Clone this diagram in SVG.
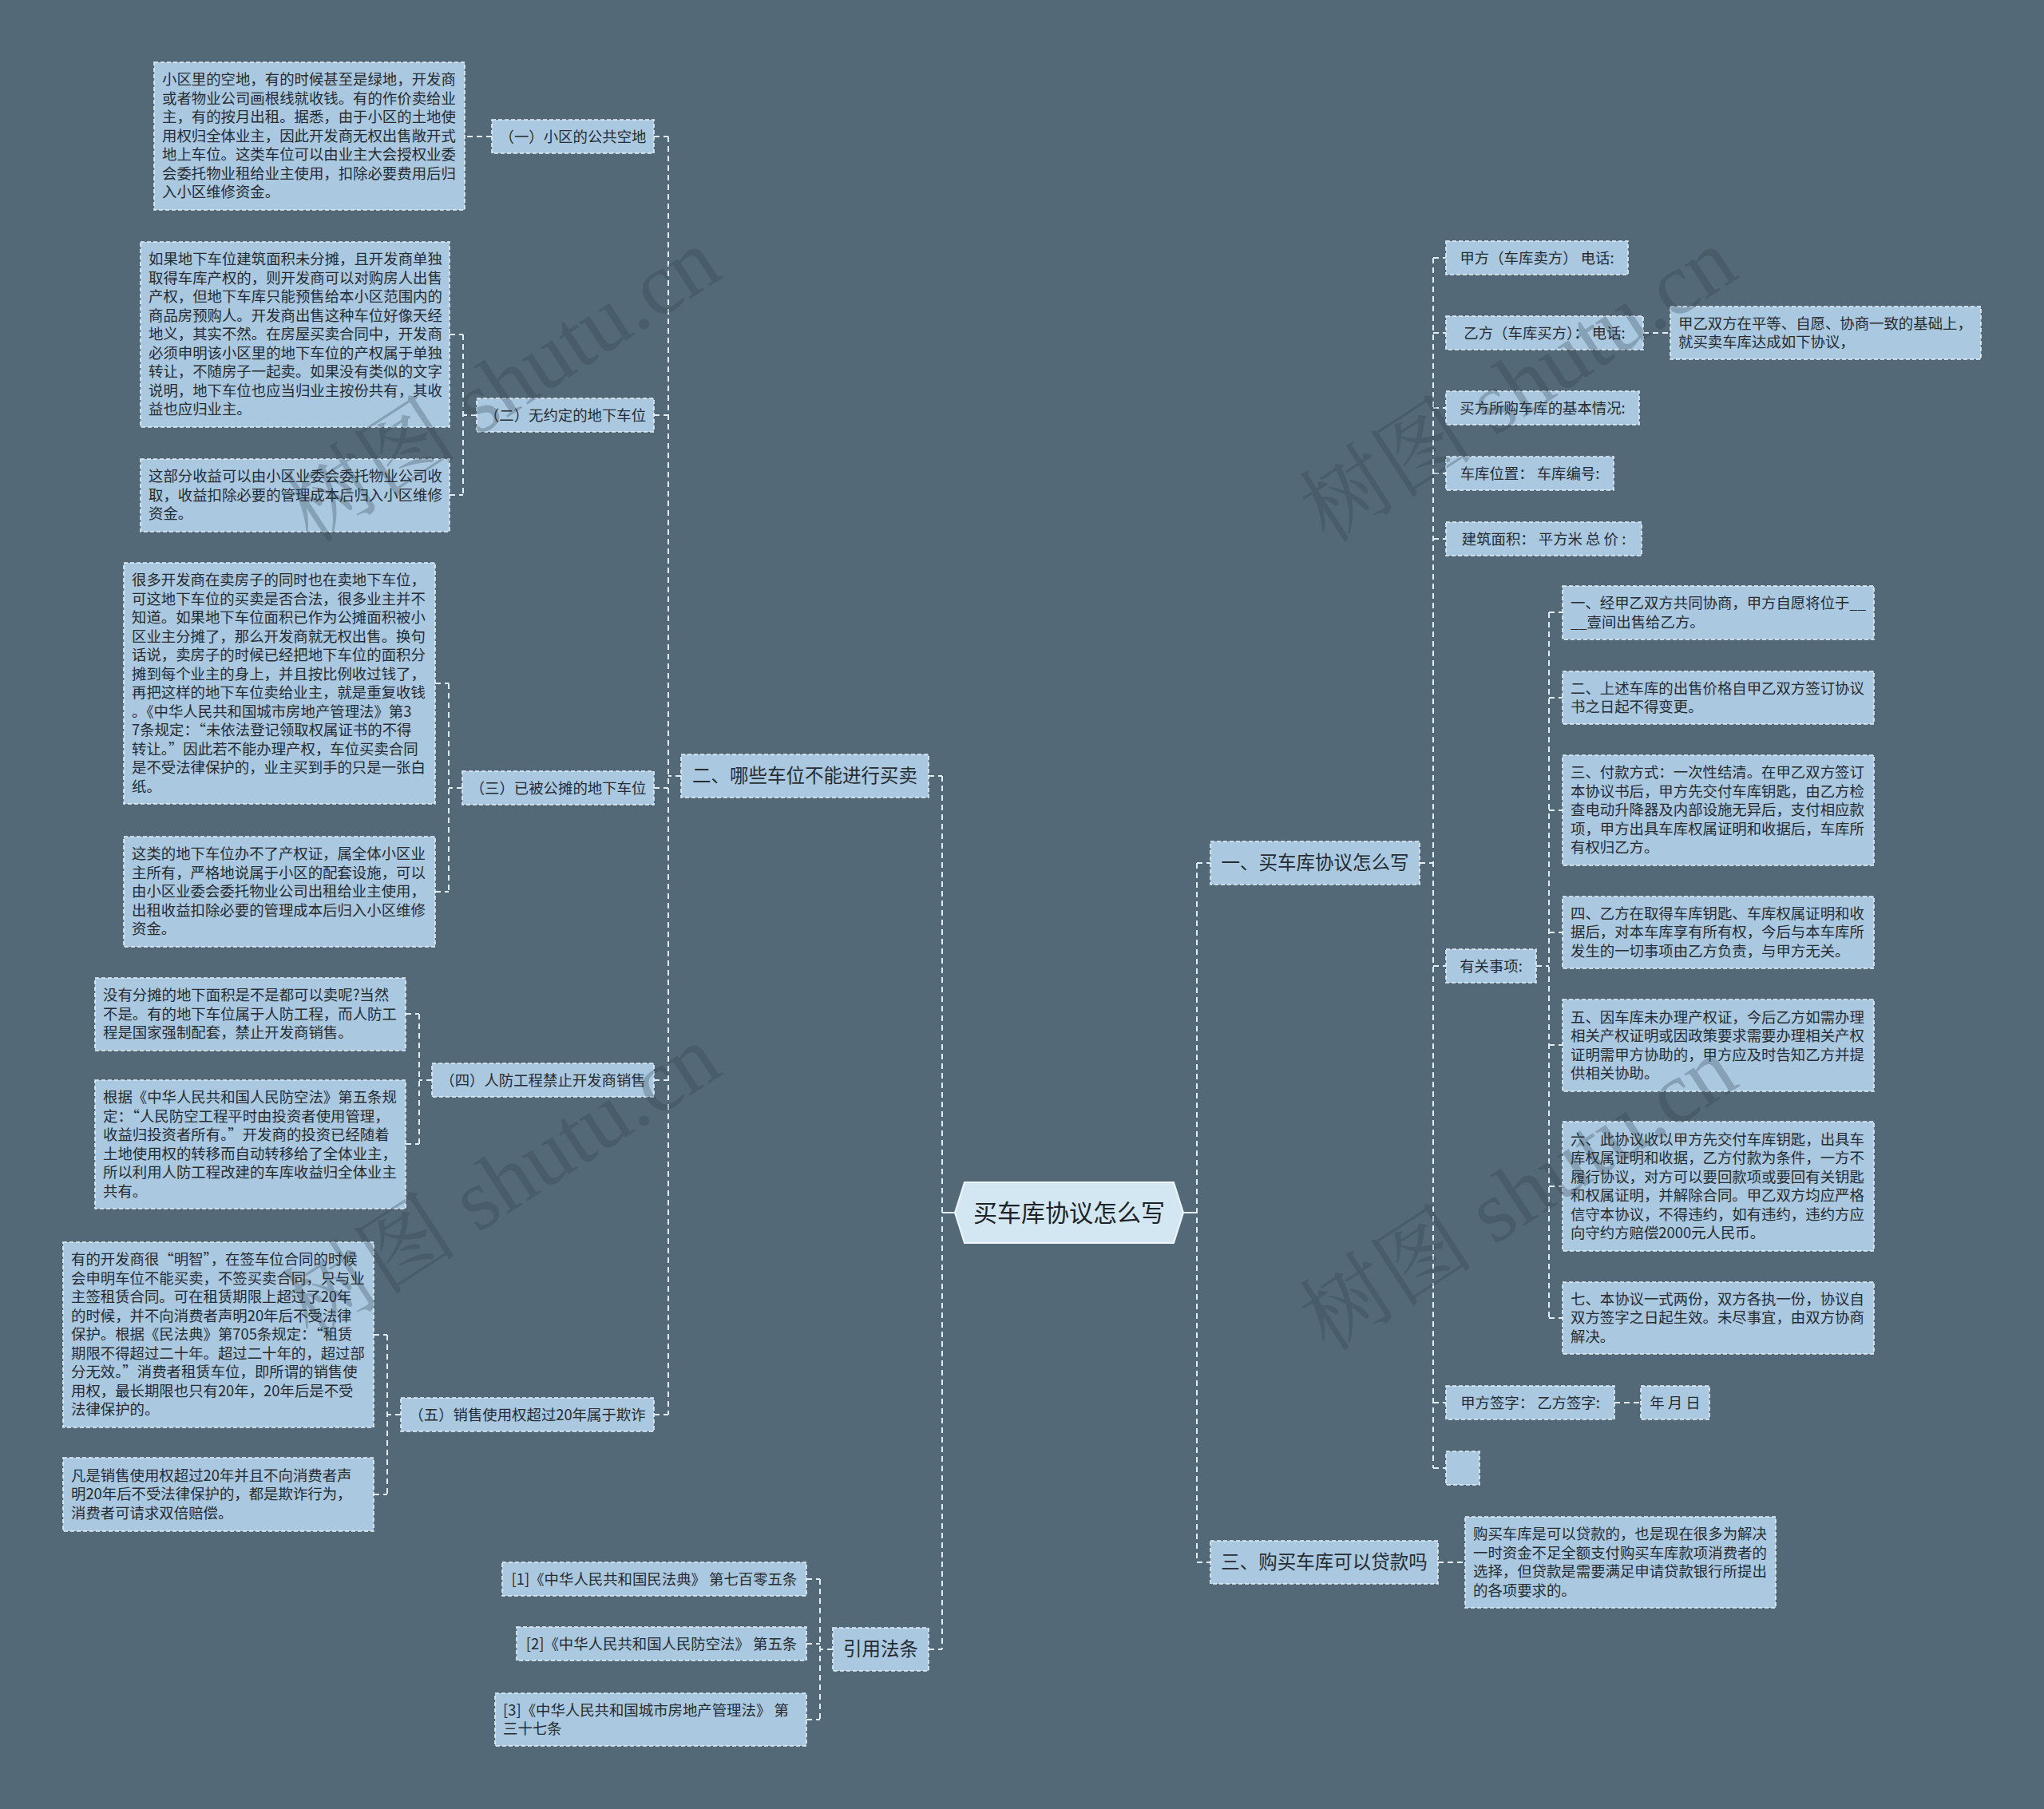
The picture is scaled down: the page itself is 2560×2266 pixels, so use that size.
<svg xmlns="http://www.w3.org/2000/svg" width="2560" height="2266" viewBox="0 0 2560 2266">
<style>
.bg{fill:#536978}
.n{fill:#aac8e0;stroke:#e6f0f7;stroke-width:1.6;stroke-dasharray:5 3}
.t{font-family:"Noto Sans CJK SC","Noto Sans",sans-serif;font-size:18.4px;fill:#262c31}
.c{text-anchor:middle}
.l1{font-size:23.5px}
.root{fill:#d3e7f3;stroke:#eef6fb;stroke-width:2}
.rt{font-family:"Noto Sans CJK SC","Noto Sans",sans-serif;font-size:30px;fill:#1e2328;text-anchor:middle}
.cn path{fill:none;stroke:#e2edf5;stroke-width:2;stroke-dasharray:7 5}
.cn .s{stroke-dasharray:none}
.wm{font-family:"Liberation Serif","Noto Serif CJK SC","Noto Sans CJK SC",serif;font-size:110px;fill:#2c3c48;opacity:0.28}
</style>
<rect class="bg" x="0" y="0" width="2560" height="2266"/>

<g id="connectors" class="cn">
<path class="s" d="M1196 1519H1180"/>
<path d="M1180 972V2066M1163 972H1180M1163 2066H1180"/>
<path d="M853 972H837M837 171V1772M819 171H837M819 520H837M819 987H837M819 1353H837M819 1772H837"/>
<path d="M616 171H582"/>
<path d="M597 520H580M580 419V620M563 419H580M563 620H580"/>
<path d="M579 987H562M562 856V1117M545 856H562M545 1117H562"/>
<path d="M541 1353H525M525 1270V1433M508 1270H525M508 1433H525"/>
<path d="M502 1772H485M485 1672V1872M468 1672H485M468 1872H485"/>
<path d="M1043 2066H1027M1027 1978V2154M1010 1978H1027M1010 2059H1027M1010 2154H1027"/>
<path class="s" d="M1482 1519H1499"/>
<path d="M1499 1081V1957M1499 1081H1516M1499 1957H1516"/>
<path d="M1778 1081H1795M1795 323V1839M1795 323H1811M1795 417H1811M1795 511H1811M1795 593H1811M1795 675H1811M1795 1210H1811M1795 1757H1811M1795 1839H1811"/>
<path d="M2058 417H2092"/>
<path d="M1924 1210H1940M1940 767V1651M1940 767H1957M1940 874H1957M1940 1015H1957M1940 1168H1957M1940 1309H1957M1940 1486H1957M1940 1651H1957"/>
<path d="M2022 1757H2055"/>
<path d="M1801 1957H1835"/>
</g>

<g id="root">
<polygon class="root" points="1196,1519 1208,1481 1470,1481 1482,1519 1470,1557 1208,1557"/>
<text class="rt" x="1339" y="1530">买车库协议怎么写</text>
</g>

<g id="b2">
<rect class="n" x="853" y="945" width="310" height="54"/>
<text class="t l1 c" x="1008" y="980">二、哪些车位不能进行买卖</text>
</g>
<g id="b2-1">
<rect class="n" x="616" y="150" width="203" height="42"/>
<text class="t c" x="717.5" y="177.5">（一）小区的公共空地</text>
</g>
<g id="b2-1-1">
<rect class="n" x="193" y="78" width="389" height="185"/>
<text class="t"><tspan x="203" y="106.3">小区里的空地，有的时候甚至是绿地，开发商</tspan><tspan x="203" y="129.8">或者物业公司画根线就收钱。有的作价卖给业</tspan><tspan x="203" y="153.3">主，有的按月出租。据悉，由于小区的土地使</tspan><tspan x="203" y="176.8">用权归全体业主，因此开发商无权出售敞开式</tspan><tspan x="203" y="200.3">地上车位。这类车位可以由业主大会授权业委</tspan><tspan x="203" y="223.8">会委托物业租给业主使用，扣除必要费用后归</tspan><tspan x="203" y="247.3">入小区维修资金。</tspan></text>
</g>
<g id="b2-2">
<rect class="n" x="597" y="499" width="222" height="42"/>
<text class="t c" x="708" y="526.5">（二）无约定的地下车位</text>
</g>
<g id="b2-2-1">
<rect class="n" x="176" y="303" width="387" height="232"/>
<text class="t"><tspan x="186" y="331.3">如果地下车位建筑面积未分摊，且开发商单独</tspan><tspan x="186" y="354.8">取得车库产权的，则开发商可以对购房人出售</tspan><tspan x="186" y="378.3">产权，但地下车库只能预售给本小区范围内的</tspan><tspan x="186" y="401.8">商品房预购人。开发商出售这种车位好像天经</tspan><tspan x="186" y="425.3">地义，其实不然。在房屋买卖合同中，开发商</tspan><tspan x="186" y="448.8">必须申明该小区里的地下车位的产权属于单独</tspan><tspan x="186" y="472.3">转让，不随房子一起卖。如果没有类似的文字</tspan><tspan x="186" y="495.8">说明，地下车位也应当归业主按份共有，其收</tspan><tspan x="186" y="519.3">益也应归业主。</tspan></text>
</g>
<g id="b2-2-2">
<rect class="n" x="176" y="575" width="387" height="91"/>
<text class="t"><tspan x="186" y="603.3">这部分收益可以由小区业委会委托物业公司收</tspan><tspan x="186" y="626.8">取，收益扣除必要的管理成本后归入小区维修</tspan><tspan x="186" y="650.3">资金。</tspan></text>
</g>
<g id="b2-3">
<rect class="n" x="579" y="966" width="240" height="42"/>
<text class="t c" x="699" y="993.5">（三）已被公摊的地下车位</text>
</g>
<g id="b2-3-1">
<rect class="n" x="155" y="705" width="390" height="302"/>
<text class="t"><tspan x="165" y="733">很多开发商在卖房子的同时也在卖地下车位，</tspan><tspan x="165" y="756.5">可这地下车位的买卖是否合法，很多业主并不</tspan><tspan x="165" y="780">知道。如果地下车位面积已作为公摊面积被小</tspan><tspan x="165" y="803.5">区业主分摊了，那么开发商就无权出售。换句</tspan><tspan x="165" y="827">话说，卖房子的时候已经把地下车位的面积分</tspan><tspan x="165" y="850.5">摊到每个业主的身上，并且按比例收过钱了，</tspan><tspan x="165" y="874">再把这样的地下车位卖给业主，就是重复收钱</tspan><tspan x="165" y="897.5">。《中华人民共和国城市房地产管理法》第3</tspan><tspan x="165" y="921">7条规定：“未依法登记领取权属证书的不得</tspan><tspan x="165" y="944.5">转让。”因此若不能办理产权，车位买卖合同</tspan><tspan x="165" y="968">是不受法律保护的，业主买到手的只是一张白</tspan><tspan x="165" y="991.5">纸。</tspan></text>
</g>
<g id="b2-3-2">
<rect class="n" x="155" y="1048" width="390" height="138"/>
<text class="t"><tspan x="165" y="1076.3">这类的地下车位办不了产权证，属全体小区业</tspan><tspan x="165" y="1099.8">主所有，严格地说属于小区的配套设施，可以</tspan><tspan x="165" y="1123.3">由小区业委会委托物业公司出租给业主使用，</tspan><tspan x="165" y="1146.8">出租收益扣除必要的管理成本后归入小区维修</tspan><tspan x="165" y="1170.3">资金。</tspan></text>
</g>
<g id="b2-4">
<rect class="n" x="541" y="1332" width="278" height="42"/>
<text class="t c" x="680" y="1359.5">（四）人防工程禁止开发商销售</text>
</g>
<g id="b2-4-1">
<rect class="n" x="119" y="1225" width="389" height="91"/>
<text class="t"><tspan x="129" y="1253.3">没有分摊的地下面积是不是都可以卖呢?当然</tspan><tspan x="129" y="1276.8">不是。有的地下车位属于人防工程，而人防工</tspan><tspan x="129" y="1300.3">程是国家强制配套，禁止开发商销售。</tspan></text>
</g>
<g id="b2-4-2">
<rect class="n" x="119" y="1353" width="389" height="161"/>
<text class="t"><tspan x="129" y="1381">根据《中华人民共和国人民防空法》第五条规</tspan><tspan x="129" y="1404.5">定：“人民防空工程平时由投资者使用管理，</tspan><tspan x="129" y="1428">收益归投资者所有。”开发商的投资已经随着</tspan><tspan x="129" y="1451.5">土地使用权的转移而自动转移给了全体业主，</tspan><tspan x="129" y="1475">所以利用人防工程改建的车库收益归全体业主</tspan><tspan x="129" y="1498.5">共有。</tspan></text>
</g>
<g id="b2-5">
<rect class="n" x="502" y="1751" width="317" height="42"/>
<text class="t c" x="660.5" y="1778.5">（五）销售使用权超过20年属于欺诈</text>
</g>
<g id="b2-5-1">
<rect class="n" x="79" y="1556" width="389" height="232"/>
<text class="t"><tspan x="89" y="1584.3">有的开发商很“明智”，在签车位合同的时候</tspan><tspan x="89" y="1607.8">会申明车位不能买卖，不签买卖合同，只与业</tspan><tspan x="89" y="1631.3">主签租赁合同。可在租赁期限上超过了20年</tspan><tspan x="89" y="1654.8">的时候，并不向消费者声明20年后不受法律</tspan><tspan x="89" y="1678.3">保护。根据《民法典》第705条规定：“租赁</tspan><tspan x="89" y="1701.8">期限不得超过二十年。超过二十年的，超过部</tspan><tspan x="89" y="1725.3">分无效。”消费者租赁车位，即所谓的销售使</tspan><tspan x="89" y="1748.8">用权，最长期限也只有20年，20年后是不受</tspan><tspan x="89" y="1772.3">法律保护的。</tspan></text>
</g>
<g id="b2-5-2">
<rect class="n" x="79" y="1826" width="389" height="92"/>
<text class="t"><tspan x="89" y="1854.8">凡是销售使用权超过20年并且不向消费者声</tspan><tspan x="89" y="1878.3">明20年后不受法律保护的，都是欺诈行为，</tspan><tspan x="89" y="1901.8">消费者可请求双倍赔偿。</tspan></text>
</g>

<g id="ref">
<rect class="n" x="1043" y="2039" width="120" height="54"/>
<text class="t l1 c" x="1103" y="2074">引用法条</text>
</g>
<g id="ref-1">
<rect class="n" x="629" y="1957" width="381" height="42"/>
<text class="t c" x="819.5" y="1984.5">[1]《中华人民共和国民法典》 第七百零五条</text>
</g>
<g id="ref-2">
<rect class="n" x="647" y="2038" width="363" height="42"/>
<text class="t c" x="828.5" y="2065.5">[2]《中华人民共和国人民防空法》 第五条</text>
</g>
<g id="ref-3">
<rect class="n" x="620" y="2121" width="390" height="66"/>
<text class="t"><tspan x="630" y="2148.5">[3]《中华人民共和国城市房地产管理法》 第</tspan><tspan x="630" y="2172">三十七条</tspan></text>
</g>

<g id="b1">
<rect class="n" x="1516" y="1054" width="262" height="54"/>
<text class="t l1 c" x="1647" y="1089">一、买车库协议怎么写</text>
</g>
<g id="b1-1">
<rect class="n" x="1811" y="302" width="228" height="42"/>
<text class="t c" x="1925" y="329.5">甲方（车库卖方） 电话:</text>
</g>
<g id="b1-2">
<rect class="n" x="1811" y="396" width="247" height="42"/>
<text class="t c" x="1934.5" y="423.5">乙方（车库买方）： 电话:</text>
</g>
<g id="b1-2-1">
<rect class="n" x="2092" y="384" width="389" height="66"/>
<text class="t"><tspan x="2102" y="411.5">甲乙双方在平等、自愿、协商一致的基础上，</tspan><tspan x="2102" y="435">就买卖车库达成如下协议，</tspan></text>
</g>
<g id="b1-3">
<rect class="n" x="1811" y="490" width="242" height="42"/>
<text class="t c" x="1932" y="517.5">买方所购车库的基本情况:</text>
</g>
<g id="b1-4">
<rect class="n" x="1811" y="572" width="210" height="42"/>
<text class="t c" x="1916" y="599.5">车库位置： 车库编号:</text>
</g>
<g id="b1-5">
<rect class="n" x="1811" y="654" width="245" height="42"/>
<text class="t c" x="1933.5" y="681.5">建筑面积： 平方米 总 价 :</text>
</g>
<g id="b1-6">
<rect class="n" x="1811" y="1189" width="113" height="42"/>
<text class="t c" x="1867.5" y="1216.5">有关事项:</text>
</g>
<g id="b1-6-1">
<rect class="n" x="1957" y="734" width="390" height="67"/>
<text class="t"><tspan x="1967" y="762">一、经甲乙双方共同协商，甲方自愿将位于__</tspan><tspan x="1967" y="785.5">__壹间出售给乙方。</tspan></text>
</g>
<g id="b1-6-2">
<rect class="n" x="1957" y="841" width="390" height="66"/>
<text class="t"><tspan x="1967" y="868.5">二、上述车库的出售价格自甲乙双方签订协议</tspan><tspan x="1967" y="892">书之日起不得变更。</tspan></text>
</g>
<g id="b1-6-3">
<rect class="n" x="1957" y="946" width="390" height="138"/>
<text class="t"><tspan x="1967" y="974.3">三、付款方式：一次性结清。在甲乙双方签订</tspan><tspan x="1967" y="997.8">本协议书后，甲方先交付车库钥匙，由乙方检</tspan><tspan x="1967" y="1021.3">查电动升降器及内部设施无异后，支付相应款</tspan><tspan x="1967" y="1044.8">项，甲方出具车库权属证明和收据后，车库所</tspan><tspan x="1967" y="1068.3">有权归乙方。</tspan></text>
</g>
<g id="b1-6-4">
<rect class="n" x="1957" y="1123" width="390" height="90"/>
<text class="t"><tspan x="1967" y="1150.8">四、乙方在取得车库钥匙、车库权属证明和收</tspan><tspan x="1967" y="1174.3">据后，对本车库享有所有权，今后与本车库所</tspan><tspan x="1967" y="1197.8">发生的一切事项由乙方负责，与甲方无关。</tspan></text>
</g>
<g id="b1-6-5">
<rect class="n" x="1957" y="1252" width="390" height="115"/>
<text class="t"><tspan x="1967" y="1280.5">五、因车库未办理产权证，今后乙方如需办理</tspan><tspan x="1967" y="1304">相关产权证明或因政策要求需要办理相关产权</tspan><tspan x="1967" y="1327.5">证明需甲方协助的，甲方应及时告知乙方并提</tspan><tspan x="1967" y="1351">供相关协助。</tspan></text>
</g>
<g id="b1-6-6">
<rect class="n" x="1957" y="1405" width="390" height="162"/>
<text class="t"><tspan x="1967" y="1433.5">六、此协议收以甲方先交付车库钥匙，出具车</tspan><tspan x="1967" y="1457">库权属证明和收据，乙方付款为条件，一方不</tspan><tspan x="1967" y="1480.5">履行协议，对方可以要回款项或要回有关钥匙</tspan><tspan x="1967" y="1504">和权属证明，并解除合同。甲乙双方均应严格</tspan><tspan x="1967" y="1527.5">信守本协议，不得违约，如有违约，违约方应</tspan><tspan x="1967" y="1551">向守约方赔偿2000元人民币。</tspan></text>
</g>
<g id="b1-6-7">
<rect class="n" x="1957" y="1606" width="390" height="90"/>
<text class="t"><tspan x="1967" y="1633.8">七、本协议一式两份，双方各执一份，协议自</tspan><tspan x="1967" y="1657.3">双方签字之日起生效。未尽事宜，由双方协商</tspan><tspan x="1967" y="1680.8">解决。</tspan></text>
</g>
<g id="b1-7">
<rect class="n" x="1811" y="1736" width="211" height="42"/>
<text class="t c" x="1916.5" y="1763.5">甲方签字： 乙方签字:</text>
</g>
<g id="b1-7-1">
<rect class="n" x="2055" y="1736" width="86" height="42"/>
<text class="t c" x="2098" y="1763.5">年 月 日</text>
</g>
<g id="b1-8">
<rect class="n" x="1811" y="1818" width="42" height="42"/>
</g>

<g id="b3">
<rect class="n" x="1516" y="1930" width="285" height="54"/>
<text class="t l1 c" x="1658.5" y="1965">三、购买车库可以贷款吗</text>
</g>
<g id="b3-1">
<rect class="n" x="1835" y="1900" width="389" height="114"/>
<text class="t"><tspan x="1845" y="1928">购买车库是可以贷款的，也是现在很多为解决</tspan><tspan x="1845" y="1951.5">一时资金不足全额支付购买车库款项消费者的</tspan><tspan x="1845" y="1975">选择，但贷款是需要满足申请贷款银行所提出</tspan><tspan x="1845" y="1998.5">的各项要求的。</tspan></text>
</g>

<g id="watermarks">
<text class="wm" text-anchor="middle" transform="translate(649,514) rotate(-33)">树图 shutu.cn</text>
<text class="wm" text-anchor="middle" transform="translate(649,1512) rotate(-33)">树图 shutu.cn</text>
<text class="wm" text-anchor="middle" transform="translate(1922,514) rotate(-33)">树图 shutu.cn</text>
<text class="wm" text-anchor="middle" transform="translate(1922,1527) rotate(-33)">树图 shutu.cn</text>
</g>
</svg>
